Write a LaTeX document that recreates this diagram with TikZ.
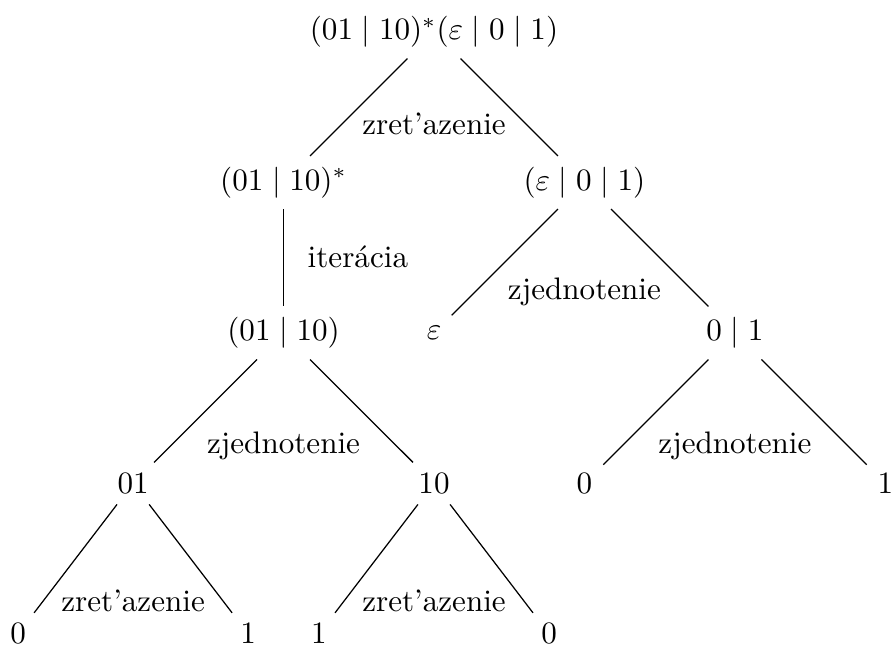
\documentclass[tikz,border=0pt]{standalone}
\usetikzlibrary{positioning}

\begin{document}
\begin{tikzpicture}[on grid, node distance=1.7cm and 1.7cm]
\useasboundingbox (-4.904,0.362) rectangle (5.186,-6.938);
% syntax tree of the expression
\node (root) {$(01 \mid 10)^*(\varepsilon \mid 0 \mid 1)$};
\node[below left=of root] (iter) {$(01 \mid 10)^*$};
\node[below right=of root] (alt) {$(\varepsilon \mid 0 \mid 1)$};
\node[below=of iter] (union) {$(01 \mid 10)$};
\node[below left=of alt] (eps) {$\varepsilon$};
\node[below right=of alt] (bit) {$0 \mid 1$};
\node[below left=of union] (w01) {$01$};
\node[below right=of union] (w10) {$10$};
\node[below left=of bit] (b0) {$0$};
\node[below right=of bit] (b1) {$1$};
\node[below left=1.7cm and 1.3cm of w01] (w01a) {$0$};
\node[below right=1.7cm and 1.3cm of w01] (w01b) {$1$};
\node[below left=1.7cm and 1.3cm of w10] (w10a) {$1$};
\node[below right=1.7cm and 1.3cm of w10] (w10b) {$0$};

% operations
\node[below=1.04cm of root] (op1) {zret'azenie};
\node[below right=0.84cm and 0.84cm of iter] (op2) {iterácia};
\node[below=1.24cm of alt] (op3) {zjednotenie};
\node[below=1.28cm of union] (op4) {zjednotenie};
\node[below=1.28cm of bit] (op5) {zjednotenie};
\node[below=1.33cm of w01] (op6) {zret'azenie};
\node[below=1.33cm of w10] (op7) {zret'azenie};

% edges
\draw (root) -- (iter);
\draw (root) -- (alt);
\draw (iter) -- (union);
\draw (alt) -- (eps);
\draw (alt) -- (bit);
\draw (union) -- (w01);
\draw (union) -- (w10);
\draw (bit) -- (b0);
\draw (bit) -- (b1);
\draw (w01) -- (w01a);
\draw (w01) -- (w01b);
\draw (w10) -- (w10a);
\draw (w10) -- (w10b);
\end{tikzpicture}
\end{document}
